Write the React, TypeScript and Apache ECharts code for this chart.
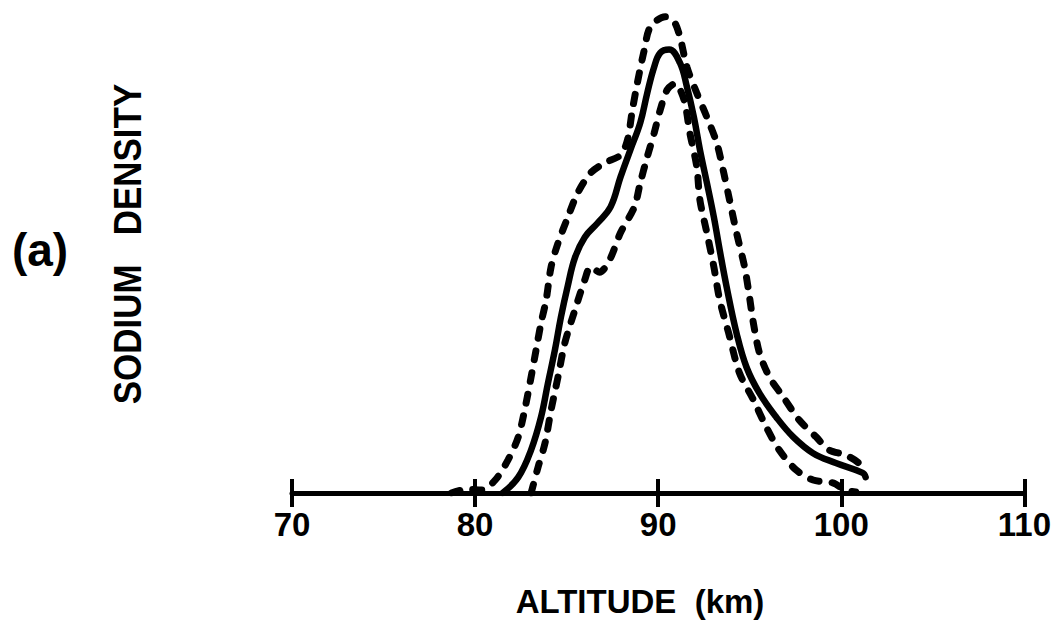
import React, { useEffect, useRef } from "react";
import * as echarts from "echarts";

// Altitude (km) and relative sodium density (arbitrary units, 0-100)
const upperKm = [78.7, 79.6, 80.35, 81.1, 81.8, 82.36, 82.74, 83.06, 83.33, 83.6, 83.88, 84.15, 84.53, 85.07, 85.6, 86.31, 87.07, 87.94, 88.32, 88.59, 88.86, 89.24, 89.57, 90.38, 90.87, 91.19, 91.57, 92.11, 92.66, 93.2, 93.58, 93.9, 94.28, 94.72, 94.93, 95.2, 95.53, 96.07, 96.83, 97.7, 98.62, 99.32, 100.24, 100.95, 101.33];
const upperDensity = [0, 0.8, 0.6, 2.7, 6.9, 11.7, 17.9, 24.2, 29.8, 35.4, 40.2, 47.1, 52.1, 57.5, 62.5, 66.7, 68.75, 70.4, 73.5, 79.8, 85.4, 92.3, 97.1, 99.2, 98.2, 95.0, 88.75, 83.3, 78.3, 72.9, 66.7, 61.0, 54.2, 47.1, 42.3, 35.4, 29.2, 24.2, 20.0, 15.2, 11.7, 9.0, 7.9, 6.25, 4.2];

const meanKm = [81.5, 82.36, 83.06, 83.6, 83.98, 84.36, 84.69, 85.07, 85.45, 85.99, 86.69, 87.4, 87.94, 88.48, 89.02, 89.4, 89.78, 90.11, 90.6, 91.19, 91.57, 91.95, 92.28, 92.66, 93.04, 93.36, 93.74, 94.28, 94.82, 95.53, 96.45, 97.37, 98.46, 99.7, 101.17, 101.33];
const meanDensity = [0, 3.3, 9.0, 15.8, 22.9, 29.8, 36.7, 43.3, 49.0, 53.3, 56.25, 59.6, 65.8, 71.5, 77.1, 83.3, 88.75, 91.7, 92.4, 89.6, 84.6, 78.3, 71.5, 64.6, 57.5, 50.6, 42.9, 33.3, 26.25, 20.8, 15.8, 11.7, 8.3, 6.25, 4.2, 3.3];

const lowerKm = [83.06, 83.44, 83.82, 84.15, 84.53, 84.9, 85.45, 85.99, 86.31, 86.8, 87.34, 87.94, 88.7, 89.02, 89.4, 89.78, 90.11, 90.49, 90.92, 91.41, 91.73, 92.11, 92.28, 92.66, 93.04, 93.36, 93.85, 94.44, 95.2, 95.9, 96.6, 97.53, 98.46, 99.54, 100.24, 100.79];
const lowerDensity = [0, 5.4, 10.4, 17.3, 24.2, 31.25, 38.1, 44.4, 47.1, 46.0, 48.5, 54.2, 59.6, 64.6, 70.0, 75.0, 79.8, 84.0, 85.3, 81.9, 75.0, 67.9, 61.0, 54.2, 47.1, 40.2, 33.3, 25.0, 19.4, 13.75, 9.0, 4.8, 2.7, 2.1, 0.6, 0.2];

const xTicks = [70, 80, 90, 100, 110];

const zip = (xs: number[], ys: number[]) => xs.map((x, i) => [x, ys[i]]);

export default function App() {
  const ref = useRef<HTMLDivElement>(null);
  useEffect(() => {
    if (!ref.current) return;
    const chart = echarts.init(ref.current, null, { renderer: "svg" });
    const dashStyle = {
      color: "#000",
      width: 7,
      type: [9, 13] as any,
      cap: "round" as const,
    };
    chart.setOption({
      animation: false,
      backgroundColor: "#fff",
      grid: { left: 292, right: 24, top: 13, bottom: 134 },
      xAxis: [
        {
          type: "value",
          min: xTicks[0],
          max: xTicks[xTicks.length - 1],
          interval: 10,
          position: "bottom",
          axisLine: { show: true, lineStyle: { color: "#000", width: 5 } },
          axisTick: { show: true, length: 14, lineStyle: { color: "#000", width: 4 } },
          axisLabel: {
            color: "#000",
            fontFamily: "Liberation Sans",
            fontWeight: "bold",
            fontSize: 33,
            margin: 15,
          },
          splitLine: { show: false },
        },
        {
          type: "value",
          min: xTicks[0],
          max: xTicks[xTicks.length - 1],
          interval: 10,
          position: "bottom",
          axisLine: { show: false },
          axisTick: { show: true, inside: true, length: 14, lineStyle: { color: "#000", width: 4 } },
          axisLabel: { show: false },
          splitLine: { show: false },
        },
      ],
      yAxis: { type: "value", min: 0, max: 100, show: false },
      series: [
        {
          type: "line",
          xAxisIndex: 0,
          data: zip(upperKm, upperDensity),
          showSymbol: false,
          smooth: 0.3,
          lineStyle: dashStyle,
        },
        {
          type: "line",
          xAxisIndex: 0,
          data: zip(lowerKm, lowerDensity),
          showSymbol: false,
          smooth: 0.3,
          lineStyle: dashStyle,
        },
        {
          type: "line",
          xAxisIndex: 0,
          data: zip(meanKm, meanDensity),
          showSymbol: false,
          smooth: 0.4,
          lineStyle: { color: "#000", width: 6.5, cap: "round" },
        },
      ],
      graphic: [
        {
          type: "text",
          x: 640,
          y: 601,
          style: {
            text: "ALTITUDE  (km)",
            fill: "#000",
            font: "bold 33px 'Liberation Sans'",
            textAlign: "center",
            textVerticalAlign: "middle",
          },
        },
        {
          type: "text",
          x: 128,
          y: 244,
          rotation: Math.PI / 2,
          scaleX: 0.92,
          style: {
            text: "SODIUM   DENSITY",
            fill: "#000",
            font: "bold 38px 'Liberation Sans'",
            textAlign: "center",
            textVerticalAlign: "middle",
          },
        },
        {
          type: "text",
          x: 40,
          y: 250,
          style: {
            text: "(a)",
            fill: "#000",
            font: "bold 46px 'Liberation Sans'",
            textAlign: "center",
            textVerticalAlign: "middle",
          },
        },
      ],
    });
    return () => chart.dispose();
  }, []);
  return (
    <div
      ref={ref}
      style={{ position: "fixed", left: 0, top: 0, width: 1054, height: 627, background: "#fff" }}
    />
  );
}
